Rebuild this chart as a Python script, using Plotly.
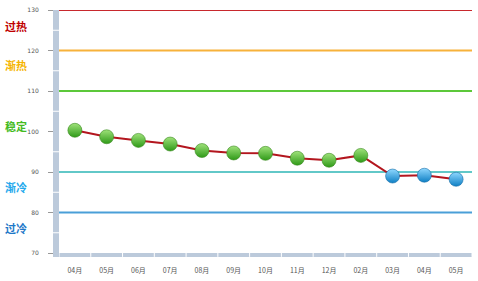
import plotly.graph_objects as go

# ---- data ----
categories = ["04月", "05月", "06月", "07月", "08月", "09月", "10月",
              "11月", "12月", "02月", "03月", "04月", "05月"]
values = [100.3, 98.7, 97.8, 96.9, 95.3, 94.7, 94.6, 93.4, 92.9, 94.1, 89.0, 89.2, 88.2]
y_ticks = [70, 80, 90, 100, 110, 120, 130]
band_levels = [130, 120, 110, 90, 80]
zone_names = ["过热", "渐热", "稳定", "渐冷", "过冷"]
zone_label_values = [126.1, 116.3, 101.3, 86.2, 76.1]
threshold = 90

# ---- styles ----
band_colors = ["#c8282d", "#f7b23b", "#5cc83a", "#62c8c8", "#4a9fd8"]
zone_colors = ["#c00000", "#f5b400", "#44bb22", "#22a8ec", "#1e78c8"]
bar_color = "#bccadb"

x_idx = list(range(len(categories)))
fig = go.Figure()

shapes = []
for lvl, col in zip(band_levels, band_colors):
    shapes.append(dict(type="line", xref="paper", x0=0, x1=1, yref="y", y0=lvl, y1=lvl,
                       line=dict(color=col, width=2), layer="below"))

shapes.append(dict(type="rect", xref="paper", x0=-0.0145, x1=0, yref="paper", y0=-0.016, y1=1,
                   fillcolor=bar_color, line=dict(width=0), layer="above"))
for g in [75, 85, 95, 105, 115, 125]:
    shapes.append(dict(type="line", xref="paper", x0=-0.0145, x1=0, yref="y", y0=g, y1=g,
                       line=dict(color="white", width=1), layer="above"))
shapes.append(dict(type="rect", xref="paper", x0=0, x1=1, yref="paper", y0=-0.016, y1=0,
                   fillcolor=bar_color, line=dict(width=0), layer="above"))
for k in range(len(categories) + 1):
    shapes.append(dict(type="line", xref="x", x0=k - 0.5, x1=k - 0.5, yref="paper", y0=-0.016, y1=0,
                       line=dict(color="white", width=1), layer="above"))

fig.add_trace(go.Scatter(
    x=x_idx, y=values, mode="lines",
    line=dict(color="#b3161e", width=2), hoverinfo="skip", showlegend=False))

green_x = [i for i, v in zip(x_idx, values) if v >= threshold]
green_y = [v for v in values if v >= threshold]
blue_x = [i for i, v in zip(x_idx, values) if v < threshold]
blue_y = [v for v in values if v < threshold]

fig.add_trace(go.Scatter(
    x=green_x, y=green_y, mode="markers", showlegend=False,
    marker=dict(size=14, color="#9fe27a",
                gradient=dict(type="vertical", color="#2f9a18"),
                line=dict(color="#3a8a20", width=0.6))))
fig.add_trace(go.Scatter(
    x=blue_x, y=blue_y, mode="markers", showlegend=False,
    marker=dict(size=14, color="#8fd8ff",
                gradient=dict(type="vertical", color="#0e7fc4"),
                line=dict(color="#1a6fa8", width=0.6))))

annotations = []
for name, yv, col in zip(zone_names, zone_label_values, zone_colors):
    annotations.append(dict(text="<b>" + name + "</b>", xref="paper", x=-0.134, xanchor="left",
                            yref="y", y=yv, showarrow=False, borderpad=0,
                            font=dict(size=11, color=col, family="Noto Sans CJK SC")))

fig.update_layout(
    width=478, height=281,
    margin=dict(l=59, r=6, t=9, b=27),
    paper_bgcolor="white", plot_bgcolor="white",
    shapes=shapes, annotations=annotations,
    xaxis=dict(range=[-0.5, len(categories) - 0.5], tickmode="array", tickvals=x_idx,
               ticktext=categories, showgrid=False, zeroline=False, showline=False,
               ticks="", tickfont=dict(size=7, color="#555555", family="Noto Sans CJK SC"),
               ticklabelstandoff=12),
    yaxis=dict(range=[70, 130], tickmode="array", tickvals=y_ticks, showgrid=False,
               zeroline=False, showline=False, ticks="outside", ticklen=10, tickcolor="#999999",
               tickwidth=1, tickfont=dict(size=6, color="#555555", family="DejaVu Sans"),
               ticklabelstandoff=8),
    font=dict(family="Noto Sans CJK SC"),
)

fig.write_html("out.html")
